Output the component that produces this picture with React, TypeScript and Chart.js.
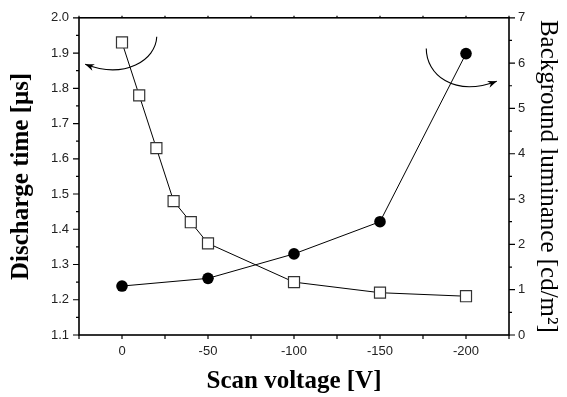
import { useEffect, useRef } from 'react';
import { Chart, registerables } from 'chart.js';
Chart.register(...registerables);

const voltageDischarge = [0, -10, -20, -30, -40, -50, -100, -150, -200];
const dischargeTime = [1.93, 1.78, 1.63, 1.48, 1.42, 1.36, 1.25, 1.22, 1.21];
const voltageLuminance = [0, -50, -100, -150, -200];
const luminance = [1.08, 1.25, 1.79, 2.5, 6.21];
const xTickValues = [0, -50, -100, -150, -200];
// curved arrow annotations, in data units (x, left-axis y): start, ctrl1, ctrl2, end
const leftArrow = [[-20.2, 1.946], [-19.7, 1.88], [-1.7, 1.825], [21.4, 1.868]];
const rightArrow = [[-176.9, 1.913], [-176.9, 1.84], [-192.5, 1.774], [-217.9, 1.82]];

const framePlugin = {
  id: 'framePlugin',
  afterDraw(chart: any) {
    const { ctx, chartArea: a, scales } = chart;
    const xs = scales.x, yl = scales.y, yr = scales.y1;
    ctx.save();
    ctx.strokeStyle = '#000';
    ctx.lineWidth = 1.6;
    ctx.strokeRect(a.left, a.top, a.right - a.left, a.bottom - a.top);
    ctx.lineWidth = 1.2;
    ctx.beginPath();
    for (let v = -225; v <= 25; v += 25) {
      const px = xs.getPixelForValue(v);
      ctx.moveTo(px, a.bottom);
      ctx.lineTo(px, a.bottom + 4);
      ctx.moveTo(px, a.top);
      ctx.lineTo(px, a.top - 2);
    }
    for (let i = 0; i <= 18; i++) {
      const v = 1.1 + i * 0.05;
      const py = yl.getPixelForValue(v);
      const len = i % 2 === 0 ? 6 : 3;
      ctx.moveTo(a.left, py);
      ctx.lineTo(a.left - len, py);
    }
    for (let i = 0; i <= 14; i++) {
      const v = i * 0.5;
      const py = yr.getPixelForValue(v);
      const len = i % 2 === 0 ? 6 : 3;
      ctx.moveTo(a.right, py);
      ctx.lineTo(a.right + len, py);
    }
    ctx.stroke();

    const drawArrow = (pts: number[][]) => {
      const p = pts.map(([x, y]) => [xs.getPixelForValue(x), yl.getPixelForValue(y)]);
      ctx.lineWidth = 1.1;
      ctx.beginPath();
      ctx.moveTo(p[0][0], p[0][1]);
      ctx.bezierCurveTo(p[1][0], p[1][1], p[2][0], p[2][1], p[3][0], p[3][1]);
      ctx.stroke();
      const ang = Math.atan2(p[3][1] - p[2][1], p[3][0] - p[2][0]);
      const L = 9, W = 3.5;
      const tx = p[3][0], ty = p[3][1];
      ctx.beginPath();
      ctx.moveTo(tx, ty);
      ctx.lineTo(tx - L * Math.cos(ang) + W * Math.sin(ang), ty - L * Math.sin(ang) - W * Math.cos(ang));
      ctx.lineTo(tx - L * 0.7 * Math.cos(ang), ty - L * 0.7 * Math.sin(ang));
      ctx.lineTo(tx - L * Math.cos(ang) - W * Math.sin(ang), ty - L * Math.sin(ang) + W * Math.cos(ang));
      ctx.closePath();
      ctx.fillStyle = '#000';
      ctx.fill();
    };
    drawArrow(leftArrow);
    drawArrow(rightArrow);
    ctx.restore();
  },
};

export default function App() {
  const ref = useRef<HTMLCanvasElement>(null);
  useEffect(() => {
    document.body.style.margin = '0';
    const chart = new Chart(ref.current!, {
      type: 'line',
      data: {
        datasets: [
          {
            data: voltageDischarge.map((x, i) => ({ x, y: dischargeTime[i] })),
            yAxisID: 'y',
            borderColor: '#000',
            borderWidth: 1,
            pointStyle: 'rect',
            pointRadius: 7.8,
            pointBackgroundColor: '#fff',
            pointBorderColor: '#333',
            pointBorderWidth: 1.2,
            tension: 0,
          },
          {
            data: voltageLuminance.map((x, i) => ({ x, y: luminance[i] })),
            yAxisID: 'y1',
            borderColor: '#000',
            borderWidth: 1,
            pointStyle: 'circle',
            pointRadius: 5.8,
            pointBackgroundColor: '#000',
            pointBorderColor: '#000',
            pointBorderWidth: 0,
            tension: 0,
          },
        ],
      },
      options: {
        responsive: false,
        animation: false,
        layout: { padding: { top: 15, left: 0, right: 0, bottom: 0 } },
        plugins: { legend: { display: false }, tooltip: { enabled: false } },
        scales: {
          x: {
            type: 'linear',
            min: -225,
            max: 25,
            reverse: true,
            grid: { display: false, drawTicks: false, tickLength: 0 },
            border: { display: false },
            afterBuildTicks: (s: any) => { s.ticks = xTickValues.map((v) => ({ value: v })); },
            afterFit: (s: any) => { s.height = 62; },
            ticks: { padding: 9, color: '#222', font: { family: 'Liberation Sans', size: 13 }, callback: (v: any) => String(v), maxRotation: 0 },
            title: { display: true, text: 'Scan voltage [V]', color: '#000', font: { family: 'Liberation Serif', size: 25, weight: 'bold' }, padding: { top: 0, bottom: 0 } },
          },
          y: {
            type: 'linear',
            position: 'left',
            min: 1.1,
            max: 2.0,
            grid: { display: false, drawTicks: false, tickLength: 0 },
            border: { display: false },
            afterFit: (s: any) => { s.width = 79; },
            ticks: { stepSize: 0.1, padding: 10, color: '#222', font: { family: 'Liberation Sans', size: 13 }, callback: (v: any) => Number(v).toFixed(1) },
            title: { display: true, text: 'Discharge time [μs]', color: '#000', font: { family: 'Liberation Serif', size: 25, weight: 'bold' }, padding: { top: 7, bottom: 0 } },
          },
          y1: {
            type: 'linear',
            position: 'right',
            min: 0,
            max: 7,
            grid: { display: false, drawTicks: false, tickLength: 0 },
            border: { display: false },
            afterFit: (s: any) => { s.width = 58; },
            ticks: { stepSize: 1, padding: 9, color: '#222', font: { family: 'Liberation Sans', size: 13 } },
            title: { display: true, text: 'Background luminance [cd/m²]', color: '#000', font: { family: 'Liberation Serif', size: 25 }, padding: { top: 4, bottom: 0 } },
          },
        },
      },
      plugins: [framePlugin],
    } as any);
    return () => chart.destroy();
  }, []);
  return (
    <div style={{ width: 567, height: 397 }}>
      <canvas ref={ref} width={567} height={397} />
    </div>
  );
}
